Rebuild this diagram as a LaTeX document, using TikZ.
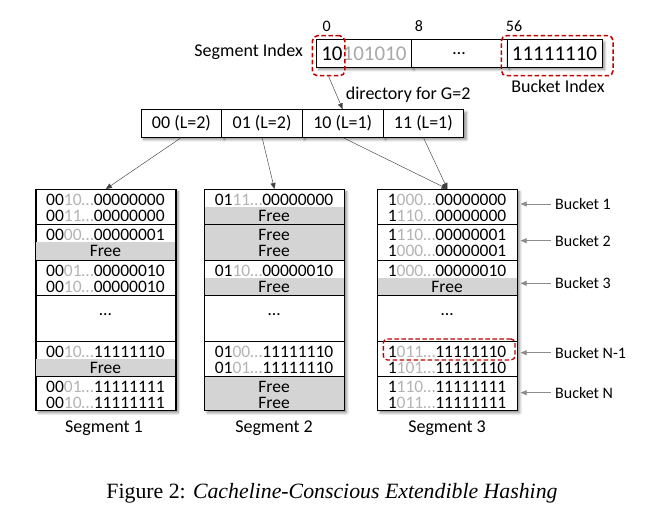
\documentclass[tikz,border=0pt]{standalone}
\usepackage{fontspec}
\setmainfont{Carlito}
\newfontfamily\capfont{Liberation Serif}
\usetikzlibrary{arrows.meta,shadows.blur}
\definecolor{lgray}{HTML}{B4B4B4}
\definecolor{tgray}{HTML}{A8A8A8}
\definecolor{fgray}{HTML}{D4D4D4}
\definecolor{dred}{HTML}{C00000}
\newcommand\ent[3]{#1\textcolor{lgray}{#2\ldots}#3}
\newcommand\fz[1]{\fontsize{#1}{#1}\selectfont}
\begin{document}
\begin{tikzpicture}[x=1pt,y=-1pt,
  shad/.style={blur shadow={shadow xshift=2.5pt,shadow yshift=-2.5pt,shadow blur steps=6,shadow opacity=45,shadow blur radius=2.5pt}},
  cell/.style={draw,line width=0.8pt,fill=white,shad,inner sep=0pt,anchor=north west},
  segbox/.style={draw,line width=0.8pt,fill=white,shad,inner sep=0pt,anchor=north west,minimum width=139.5pt,minimum height=221pt},
  ent/.style={inner sep=0pt,font=\fz{17.5}},
  lbl/.style={inner sep=0pt,font=\fz{18}},
  blbl/.style={inner sep=0pt,font=\fz{16},anchor=west},
  conn/.style={-{Triangle[length=6pt,width=5pt]},line width=0.45pt,draw=black!75},
  bconn/.style={-{Triangle[length=6pt,width=5pt]},line width=0.6pt,draw=black!45},
  redbox/.style={draw=dred,line width=1.5pt,dash pattern=on 4.5pt off 2.5pt,rounded corners=5pt},
  sep/.style={line width=0.9pt}]
\useasboundingbox (0,0) rectangle (648,511);

% ---------- top bar ----------
\node[cell,minimum width=95pt,minimum height=27.4pt,font=\fz{21}] (c1) at (316,39.3) {10\textcolor{tgray}{101010}};
\node[cell,minimum width=95.5pt,minimum height=27.4pt,font=\fz{18}] (c2) at (411,39.3) {\ldots};
\node[cell,minimum width=95.2pt,minimum height=27.4pt,font=\fz{21}] (c3) at (506.5,39.3) {11111110};
\node[lbl,font=\fz{16}] (n0) at (326.7,26.2) {0};
\node[lbl,font=\fz{16}] (n8) at (419,26.2) {8};
\node[lbl,font=\fz{16}] (n56) at (514,26.2) {56};
\node[lbl,anchor=east] (segidx) at (303,51.7) {Segment Index};
\node[lbl] (bktidx) at (558,86.7) {Bucket Index};
\node[redbox,minimum width=32.3pt,minimum height=40pt,anchor=north west] (r1) at (311.7,35) {};
\node[redbox,minimum width=111.6pt,minimum height=40pt,anchor=north west] (r2) at (500.7,35) {};

% ---------- directory ----------
\node[cell,minimum width=80.65pt,minimum height=27.4pt,font=\fz{18}] (d00) at (140.7,109.3) {00 (L=2)};
\node[cell,minimum width=80.65pt,minimum height=27.4pt,font=\fz{18}] (d01) at (221.35,109.3) {01 (L=2)};
\node[cell,minimum width=80.65pt,minimum height=27.4pt,font=\fz{18}] (d10) at (302,109.3) {10 (L=1)};
\node[cell,minimum width=80.65pt,minimum height=27.4pt,font=\fz{18}] (d11) at (382.65,109.3) {11 (L=1)};
\node[lbl,anchor=west] (dirlbl) at (345.7,95) {directory for G=2};
\draw[conn] (r1.south) -- (d10.north);

% ---------- segments ----------
\node[segbox] (seg1) at (35.7,189) {};
\node[segbox] (seg2) at (204.3,189) {};
\node[segbox] (seg3) at (377.3,189) {};

% free (gray) areas
\fill[fgray] (35.7,242) rectangle (175.2,260);
\fill[fgray] (35.7,358.5) rectangle (175.2,376);
\fill[fgray] (204.3,206.5) rectangle (343.8,224);
\fill[fgray] (204.3,224) rectangle (343.8,260);
\fill[fgray] (204.3,277.5) rectangle (343.8,295);
\fill[fgray] (204.3,376) rectangle (343.8,410);
\fill[fgray] (377.3,277.5) rectangle (516.8,295);

% bucket separators and borders
\foreach \s in {seg1,seg2,seg3}{
  \foreach \yy in {224,260,295,341,376}{
    \draw[sep] (\s.west |- 0,\yy) -- (\s.east |- 0,\yy);
  }
  \draw[line width=0.8pt] (\s.north west) rectangle (\s.south east);
}

% segment 1
\node[ent] (s1a) at (105.45,200) {\ent{00}{10}{00000000}};
\node[ent] (s1b) at (105.45,215.5) {\ent{00}{11}{00000000}};
\node[ent] (s1c) at (105.45,235) {\ent{00}{00}{00000001}};
\node[ent] (s1d) at (105.45,250.5) {Free};
\node[ent] (s1e) at (105.45,271) {\ent{00}{01}{00000010}};
\node[ent] (s1f) at (105.45,286.5) {\ent{00}{10}{00000010}};
\node[ent] (s1g) at (105.45,315) {\ldots};
\node[ent] (s1h) at (105.45,352) {\ent{00}{10}{11111110}};
\node[ent] (s1i) at (105.45,367.5) {Free};
\node[ent] (s1j) at (105.45,387) {\ent{00}{01}{11111111}};
\node[ent] (s1k) at (105.45,402.5) {\ent{00}{10}{11111111}};

% segment 2
\node[ent] (s2a) at (274.05,200) {\ent{01}{11}{00000000}};
\node[ent] (s2b) at (274.05,215.5) {Free};
\node[ent] (s2c) at (274.05,235) {Free};
\node[ent] (s2d) at (274.05,250.5) {Free};
\node[ent] (s2e) at (274.05,271) {\ent{01}{10}{00000010}};
\node[ent] (s2f) at (274.05,286.5) {Free};
\node[ent] (s2g) at (274.05,315) {\ldots};
\node[ent] (s2h) at (274.05,352) {\ent{01}{00}{11111110}};
\node[ent] (s2i) at (274.05,367.5) {\ent{01}{01}{11111110}};
\node[ent] (s2j) at (274.05,387) {Free};
\node[ent] (s2k) at (274.05,402.5) {Free};

% segment 3
\node[ent] (s3a) at (447.05,200) {\ent{1}{000}{00000000}};
\node[ent] (s3b) at (447.05,215.5) {\ent{1}{110}{00000000}};
\node[ent] (s3c) at (447.05,235) {\ent{1}{110}{00000001}};
\node[ent] (s3d) at (447.05,250.5) {\ent{1}{000}{00000001}};
\node[ent] (s3e) at (447.05,271) {\ent{1}{000}{00000010}};
\node[ent] (s3f) at (447.05,286.5) {Free};
\node[ent] (s3g) at (447.05,315) {\ldots};
\node[ent] (s3h) at (447.05,352) {\ent{1}{011}{11111110}};
\node[ent] (s3i) at (447.05,367.5) {\ent{1}{101}{11111110}};
\node[ent] (s3j) at (447.05,387) {\ent{1}{110}{11111111}};
\node[ent] (s3k) at (447.05,402.5) {\ent{1}{011}{11111111}};
\node[redbox,line width=1.3pt,rounded corners=4pt,minimum width=131.6pt,minimum height=21pt,anchor=north west] (r3) at (382.7,338.3) {};

% directory -> segments
\draw[conn] (d00.south) -- (seg1.north);
\draw[conn] (d01.south) -- (seg2.north);
\draw[conn] (d10.south) -- (seg3.north);
\draw[conn] (d11.south) -- (seg3.north);

% segment labels
\node[lbl,anchor=base] (sl1) at (104,432) {Segment 1};
\node[lbl,anchor=base] (sl2) at (274.05,432) {Segment 2};
\node[lbl,anchor=base] (sl3) at (447.05,432) {Segment 3};

% bucket labels
\node[blbl] (b1) at (555,204) {Bucket 1};
\node[blbl] (b2) at (555,240.7) {Bucket 2};
\node[blbl] (b3) at (555,283.3) {Bucket 3};
\node[blbl] (bn1) at (555,352.7) {Bucket N-1};
\node[blbl] (bn) at (555,392.7) {Bucket N};
\foreach \b in {b1,b2,b3,bn1,bn}{
  \draw[bconn,shorten <=4pt,shorten >=3pt] (\b.west) -- (\b.west -| seg3.east);
}

% caption
\node[inner sep=0pt,font={\capfont\fz{21.8}}] (cap) at (332,493) {Figure 2: \textit{Cacheline-Conscious Extendible Hashing}};
\end{tikzpicture}
\end{document}
